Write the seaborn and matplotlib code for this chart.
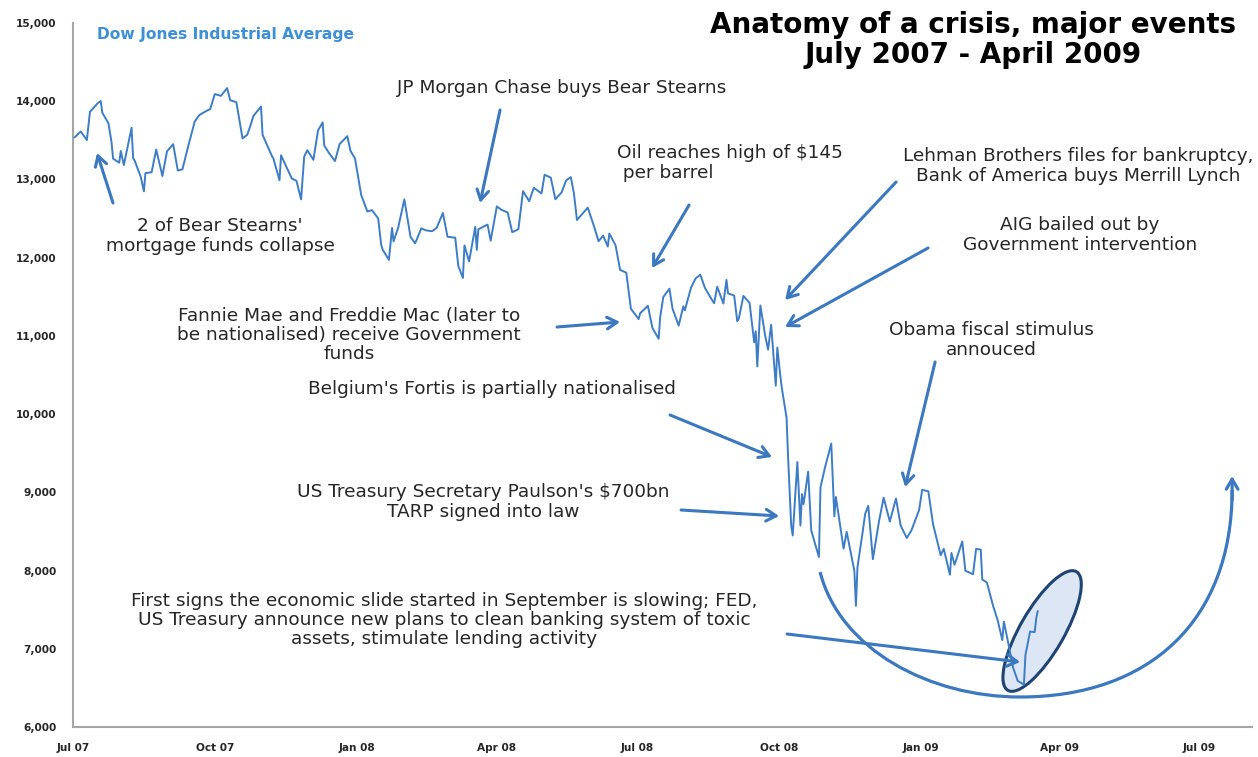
import numpy as np
import pandas as pd
import matplotlib
matplotlib.use("Agg")
import matplotlib.pyplot as plt
import matplotlib.dates as mdates
from matplotlib.patches import Ellipse, PathPatch
from matplotlib.path import Path
from matplotlib.transforms import ScaledTranslation
import seaborn as sns

# ---------------- data ----------------
dates = [
    "2007-07-02", "2007-07-06", "2007-07-10", "2007-07-12", "2007-07-17", "2007-07-19", "2007-07-20",
    "2007-07-24", "2007-07-26", "2007-07-27", "2007-07-31", "2007-08-01", "2007-08-03", "2007-08-06",
    "2007-08-08", "2007-08-09", "2007-08-10", "2007-08-14", "2007-08-16", "2007-08-17", "2007-08-21",
    "2007-08-24", "2007-08-28", "2007-08-31", "2007-09-04", "2007-09-07", "2007-09-10", "2007-09-14",
    "2007-09-18", "2007-09-21", "2007-09-26", "2007-09-28", "2007-10-01", "2007-10-05", "2007-10-09",
    "2007-10-11", "2007-10-15", "2007-10-19", "2007-10-22", "2007-10-24", "2007-10-26", "2007-10-31",
    "2007-11-01", "2007-11-07", "2007-11-08", "2007-11-12", "2007-11-13", "2007-11-16", "2007-11-20",
    "2007-11-23", "2007-11-26", "2007-11-28", "2007-11-30", "2007-12-04", "2007-12-07", "2007-12-10",
    "2007-12-11", "2007-12-14", "2007-12-18", "2007-12-21", "2007-12-26", "2007-12-28", "2007-12-31",
    "2008-01-04", "2008-01-08", "2008-01-11", "2008-01-15", "2008-01-17", "2008-01-18", "2008-01-22",
    "2008-01-24", "2008-01-25", "2008-01-28", "2008-02-01", "2008-02-05", "2008-02-08", "2008-02-12",
    "2008-02-15", "2008-02-19", "2008-02-22", "2008-02-26", "2008-02-29", "2008-03-05", "2008-03-07",
    "2008-03-10", "2008-03-11", "2008-03-14", "2008-03-18", "2008-03-19", "2008-03-20", "2008-03-26",
    "2008-03-28", "2008-04-01", "2008-04-04", "2008-04-08", "2008-04-11", "2008-04-15", "2008-04-18",
    "2008-04-22", "2008-04-25", "2008-04-30", "2008-05-02", "2008-05-06", "2008-05-09", "2008-05-13",
    "2008-05-16", "2008-05-19", "2008-05-21", "2008-05-23", "2008-05-28", "2008-05-30", "2008-06-03",
    "2008-06-06", "2008-06-09", "2008-06-12", "2008-06-13", "2008-06-17", "2008-06-20", "2008-06-24",
    "2008-06-27", "2008-07-02", "2008-07-03", "2008-07-08", "2008-07-11", "2008-07-15", "2008-07-16",
    "2008-07-18", "2008-07-22", "2008-07-24", "2008-07-28", "2008-07-31", "2008-08-01", "2008-08-05",
    "2008-08-08", "2008-08-11", "2008-08-14", "2008-08-18", "2008-08-20", "2008-08-22", "2008-08-26",
    "2008-08-28", "2008-08-29", "2008-09-02", "2008-09-04", "2008-09-05", "2008-09-08", "2008-09-12",
    "2008-09-15", "2008-09-16", "2008-09-17", "2008-09-19", "2008-09-22", "2008-09-24", "2008-09-26",
    "2008-09-29", "2008-09-30", "2008-10-02", "2008-10-03", "2008-10-06", "2008-10-07", "2008-10-09",
    "2008-10-10", "2008-10-13", "2008-10-15", "2008-10-16", "2008-10-17", "2008-10-20", "2008-10-22",
    "2008-10-24", "2008-10-27", "2008-10-28", "2008-10-31", "2008-11-04", "2008-11-06", "2008-11-07",
    "2008-11-12", "2008-11-14", "2008-11-19", "2008-11-20", "2008-11-21", "2008-11-24", "2008-11-26",
    "2008-11-28", "2008-12-01", "2008-12-05", "2008-12-08", "2008-12-12", "2008-12-16", "2008-12-19",
    "2008-12-23", "2008-12-26", "2008-12-31", "2009-01-02", "2009-01-06", "2009-01-09", "2009-01-14",
    "2009-01-16", "2009-01-20", "2009-01-21", "2009-01-23", "2009-01-28", "2009-01-30", "2009-02-04",
    "2009-02-06", "2009-02-09", "2009-02-10", "2009-02-13", "2009-02-17", "2009-02-20", "2009-02-23",
    "2009-02-24", "2009-02-27", "2009-03-02", "2009-03-05", "2009-03-09", "2009-03-10", "2009-03-13",
    "2009-03-16", "2009-03-17", "2009-03-18",
]
dow = [
    13535, 13611, 13501, 13861, 13971, 14000, 13851,
    13716, 13473, 13265, 13212, 13362, 13182, 13469,
    13658, 13271, 13239, 13029, 12846, 13079, 13090,
    13379, 13042, 13358, 13449, 13113, 13127, 13442,
    13739, 13821, 13878, 13896, 14088, 14066, 14165,
    14010, 13985, 13522, 13567, 13676, 13807, 13930,
    13568, 13300, 13267, 12988, 13307, 13177, 13010,
    12981, 12743, 13289, 13372, 13249, 13625, 13727,
    13433, 13339, 13233, 13451, 13551, 13366, 13265,
    12800, 12589, 12606, 12501, 12160, 12099, 11971,
    12378, 12207, 12383, 12743, 12265, 12182, 12373,
    12348, 12337, 12381, 12570, 12266, 12254, 11894,
    11740, 12156, 11951, 12392, 12099, 12361, 12422,
    12216, 12654, 12610, 12577, 12325, 12362, 12849,
    12720, 12891, 12820, 13058, 13021, 12745, 12832,
    12986, 13028, 12824, 12480, 12594, 12638, 12404,
    12209, 12280, 12141, 12307, 12160, 11843, 11807,
    11346, 11215, 11289, 11384, 11100, 10963, 11239,
    11496, 11603, 11349, 11131, 11378, 11326, 11616,
    11734, 11782, 11615, 11479, 11417, 11628, 11413,
    11715, 11543, 11516, 11188, 11220, 11511, 11421,
    10918, 11060, 10610, 11388, 11016, 10825, 11143,
    10365, 10851, 10482, 10325, 9955, 9447, 8579,
    8451, 9388, 8578, 8979, 8852, 9265, 8519,
    8378, 8176, 9065, 9325, 9625, 8696, 8943,
    8283, 8497, 7997, 7552, 8046, 8443, 8727,
    8829, 8149, 8635, 8934, 8629, 8924, 8579,
    8419, 8515, 8776, 9034, 9015, 8599, 8200,
    8281, 7950, 8228, 8077, 8375, 8001, 7956,
    8280, 8270, 7888, 7850, 7553, 7366, 7115,
    7351, 7063, 6763, 6594, 6547, 6926, 7224,
    7217, 7395, 7486,
]
y_ticks = [6000, 7000, 8000, 9000, 10000, 11000, 12000, 13000, 14000, 15000]
x_ticks = ["2007-07-01", "2007-10-01", "2008-01-01", "2008-04-01", "2008-07-01",
           "2008-10-01", "2009-01-01", "2009-04-01", "2009-07-01"]

df = pd.DataFrame({"date": pd.to_datetime(dates), "dow": dow})

# ---------------- style ----------------
sns.set_theme(style="white")
plt.rcParams["font.family"] = ["DejaVu Sans"]

LINE = "#3d7cc6"
ARROW = "#3c78c0"
TXT = "#262626"

fig = plt.figure(figsize=(12.58, 7.57), dpi=100)
ax = fig.add_axes([73 / 1258, 1 - 727.4 / 757, (1252 - 73) / 1258, (727.4 - 22.7) / 757])

x0 = pd.Timestamp("2007-07-01")
x1 = pd.Timestamp("2009-08-04")


def P(px, py):
    """reference-pixel position -> data coordinates"""
    d = x0 + pd.Timedelta(days=(px - 73) / 1.541)
    return (mdates.date2num(d), 6000 + (727.4 - py) / 78.3 * 1000)


sns.lineplot(data=df, x="date", y="dow", ax=ax, color=LINE, lw=1.4, zorder=3)

ax.set_xlim(x0, x1)
ax.set_ylim(6000, 15000)
ax.set_yticks(y_ticks)
ax.set_yticklabels([f"{v:,}" for v in y_ticks])
ax.set_xticks(pd.to_datetime(x_ticks))
ax.xaxis.set_major_formatter(mdates.DateFormatter("%b %y"))
ax.set_xlabel("")
ax.set_ylabel("")
for s in ["top", "right"]:
    ax.spines[s].set_visible(False)
for s in ["left", "bottom"]:
    ax.spines[s].set_color("#a6a6a6")
    ax.spines[s].set_linewidth(1.5)
ax.tick_params(axis="both", which="major", direction="out", length=5, width=1.2,
               color="#a6a6a6", labelsize=7.6, labelcolor="#262626")
ax.tick_params(axis="x", pad=6)
ax.tick_params(axis="y", pad=7)
for lab in ax.get_xticklabels() + ax.get_yticklabels():
    lab.set_fontweight("bold")

# ---------------- titles ----------------
fig.text(973 / 1258, 1 - 40 / 757, "Anatomy of a crisis, major events\nJuly 2007 - April 2009",
         ha="center", va="center", fontsize=20, fontweight="bold", color="black",
         linespacing=1.05)
ax.text(*P(97, 35), "Dow Jones Industrial Average", ha="left", va="center",
        fontsize=11.2, fontweight="bold", color="#3d8fd6")

# ---------------- annotations ----------------
notes = [
    ("2 of Bear Stearns'\nmortgage funds collapse", (220, 236), "center", (113, 203), (97, 153)),
    ("JP Morgan Chase buys Bear Stearns", (562, 88), "center", (500, 110), (480, 203)),
    ("Oil reaches high of $145\n per barrel", (617, 163), "left", (689, 205), (652, 268)),
    ("Lehman Brothers files for bankruptcy,\nBank of America buys Merrill Lynch", (1078, 166), "center",
     (896, 182), (785, 300)),
    ("AIG bailed out by\nGovernment intervention", (1080, 235), "center", (928, 248), (785, 327)),
    ("Fannie Mae and Freddie Mac (later to\nbe nationalised) receive Government\nfunds", (349, 335),
     "center", (557, 327), (620, 322)),
    ("Belgium's Fortis is partially nationalised", (492, 389), "center", (670, 415), (772, 457)),
    ("US Treasury Secretary Paulson's $700bn\nTARP signed into law", (483, 502), "center",
     (681, 510), (779, 516)),
    ("First signs the economic slide started in September is slowing; FED,\n"
     "US Treasury announce new plans to clean banking system of toxic\n"
     "assets, stimulate lending activity", (444, 620), "center", (787, 634), (1020, 662)),
    ("Obama fiscal stimulus\nannouced", (991, 340), "center", (935, 362), (905, 487)),
]
for text, tpos, ha, tail, head in notes:
    ax.text(*P(*tpos), text, ha=ha, va="center", multialignment="center" if ha == "center" else "left",
            fontsize=13.3, color=TXT, linespacing=1.08, zorder=5)
    ax.annotate("", xy=P(*head), xytext=P(*tail),
                arrowprops=dict(arrowstyle="->,head_length=0.6,head_width=0.35",
                                color=ARROW, lw=2.2, shrinkA=0, shrinkB=0), zorder=5)

# ---------------- highlight ellipse ----------------
cx, cy = P(1042, 631)
ell = Ellipse((0, 0), 1.37, 0.44, angle=60,
              transform=fig.dpi_scale_trans + ScaledTranslation(cx, cy, ax.transData),
              facecolor="#dde6f4", edgecolor="#1f4372", lw=2.2, zorder=2)
ax.add_patch(ell)

# ---------------- big recovery arrow ----------------
verts = [P(820, 572), P(840, 650), P(930, 697), P(1020, 697),
         P(1150, 697), P(1232, 620), P(1232, 490)]
codes = [Path.MOVETO, Path.CURVE4, Path.CURVE4, Path.CURVE4,
         Path.CURVE4, Path.CURVE4, Path.CURVE4]
ax.add_patch(PathPatch(Path(verts, codes), facecolor="none", edgecolor=ARROW,
                       lw=2.3, zorder=4))
ax.annotate("", xy=P(1232, 476), xytext=P(1232, 500),
            arrowprops=dict(arrowstyle="->,head_length=0.6,head_width=0.35",
                            color=ARROW, lw=2.3, shrinkA=0, shrinkB=0), zorder=4)

fig.savefig("out.png", dpi=100, facecolor="white")
